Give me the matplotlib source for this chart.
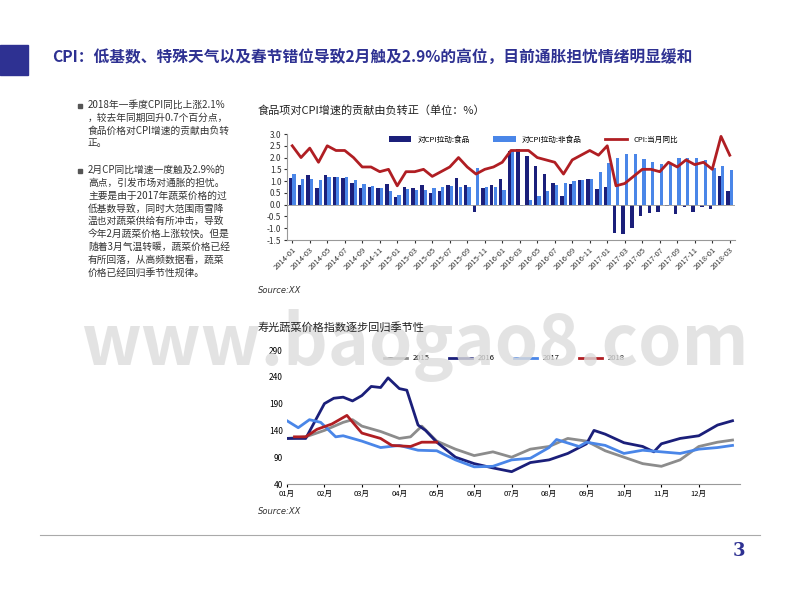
import matplotlib
matplotlib.use("Agg")
import matplotlib.pyplot as plt
import numpy as np

plt.rcParams["font.family"] = ["Noto Sans CJK SC", "DejaVu Sans"]

# ---- top chart data (2014-01 .. 2018-03) ----
months = [f"{y}-{m:02d}" for y in range(2014, 2019) for m in range(1, 13)][:51]
food = [1.14,0.83,1.27,0.70,1.27,1.16,1.13,0.93,0.70,0.77,0.70,0.89,
        0.33,0.74,0.70,0.83,0.49,0.57,0.83,1.14,0.83,-0.31,0.70,0.83,
        1.11,2.29,2.36,2.07,1.64,1.29,0.93,0.36,0.89,1.03,1.11,0.66,
        0.74,-1.21,-1.24,-1.00,-0.46,-0.36,-0.31,-0.07,-0.40,-0.11,-0.31,-0.11,
        -0.17,1.21,0.57]
nonfood = [1.31,1.07,1.07,1.06,1.17,1.16,1.16,1.03,0.89,0.80,0.70,0.56,
           0.40,0.67,0.64,0.64,0.71,0.77,0.80,0.77,0.73,1.57,0.74,0.73,
           0.64,2.26,-0.05,0.21,0.36,0.57,0.83,0.94,0.99,1.03,1.11,1.37,
           1.77,2.00,2.13,2.17,1.93,1.81,1.71,1.79,1.97,2.00,2.00,1.89,
           1.57,1.64,1.49]
cpi = [2.5,2.0,2.4,1.8,2.5,2.3,2.3,2.0,1.6,1.6,1.4,1.5,
       0.8,1.4,1.4,1.5,1.2,1.4,1.6,2.0,1.6,1.3,1.5,1.6,
       1.8,2.3,2.3,2.3,2.0,1.9,1.8,1.3,1.9,2.1,2.3,2.1,
       2.5,0.8,0.9,1.2,1.5,1.5,1.4,1.8,1.6,1.9,1.7,1.8,
       1.5,2.9,2.1]
top_yticks = [-1.5,-1.0,-0.5,0.0,0.5,1.0,1.5,2.0,2.5,3.0]

# ---- bottom chart data ----
month_labels = ["01月","02月","03月","04月","05月","06月","07月","08月","09月","10月","11月","12月"]
x2015 = [1,1.5,2,2.5,2.75,3,3.5,4,4.3,4.6,5,5.5,6,6.5,7,7.5,8,8.5,9,9.5,10,10.5,11,11.5,12,12.5,12.9]
y2015 = [125,128,140,155,160,148,138,125,128,148,120,105,93,100,90,105,110,125,120,102,90,78,73,85,110,118,122]
x2016 = [1,1.5,2,2.25,2.5,2.75,3,3.25,3.5,3.7,4,4.2,4.5,4.7,5,5.5,6,6.5,7,7.5,8,8.5,9,9.2,9.5,10,10.5,10.8,11,11.5,12,12.5,12.9]
y2016 = [125,125,190,200,202,195,205,222,220,238,218,215,150,140,118,90,78,70,63,80,85,97,115,140,133,117,110,100,115,125,130,150,158]
x2017 = [1,1.3,1.6,1.9,2.3,2.5,3,3.5,4,4.5,5,5.5,6,6.5,7,7.5,8,8.2,8.8,9,9.5,10,10.5,11,11.5,12,12.5,12.9]
y2017 = [158,145,160,155,128,130,120,108,112,103,102,85,72,73,85,88,108,123,110,118,112,97,103,100,97,105,108,112]
x2018 = [1.2,1.5,1.8,2.2,2.6,3,3.5,3.8,4.3,4.6,5]
y2018 = [128,128,142,152,168,135,125,112,110,118,118]

fig = plt.figure(figsize=(8, 6), dpi=100)
W, H = 800, 600
def ax_rect(x0, y0, x1, y1):
    return [x0/W, 1-y1/H, (x1-x0)/W, (y1-y0)/H]

navy = "#2E3192"
# header
fig.patches.append(plt.Rectangle((0, 1-75/H), 28/W, 30/H, transform=fig.transFigure, color=navy))
fig.text(52/W, 1-58/H, "CPI：低基数、特殊天气以及春节错位导致2月触及2.9%的高位，目前通胀担忧情绪明显缓和",
         color=navy, fontsize=11.3, fontweight="bold", va="center")
# watermark
fig.text(415/W, 1-345/H, "www.baogao8.com", color="#dddddd", fontsize=50, ha="center", va="center",
         fontweight="bold", alpha=0.8, zorder=0)
# footer
fig.add_artist(plt.Line2D([40/W, 760/W], [1-535/H, 1-535/H], color="#aaaaaa", lw=0.8, transform=fig.transFigure))
fig.text(745/W, 1-551/H, "3", color=navy, fontsize=13, fontweight="bold", ha="right", va="center", family="DejaVu Serif")

# left text
p1 = "2018年一季度CPI同比上涨2.1%\n，较去年同期回升0.7个百分点，\n食品价格对CPI增速的贡献由负转\n正。"
p2 = ("2月CP同比增速一度触及2.9%的\n高点，引发市场对通胀的担忧。\n主要是由于2017年蔬菜价格的过\n低基数导致，同时大范围雨雪降\n"
      "温也对蔬菜供给有所冲击，导致\n今年2月蔬菜价格上涨较快。但是\n随着3月气温转暖，蔬菜价格已经\n有所回落，从高频数据看，蔬菜\n价格已经回归季节性规律。")
for yy, txt in [(100, p1), (165, p2)]:
    fig.patches.append(plt.Rectangle((78/W, 1-(yy+8)/H), 4/W, 4/H, transform=fig.transFigure, color="#555555"))
    fig.text(88/W, 1-yy/H, txt, fontsize=7, va="top", color="#333333", linespacing=1.35)

# top chart
fig.text(258/W, 1-110/H, "食品项对CPI增速的贡献由负转正（单位：%）", fontsize=8, va="center", color="#222222")
ax = fig.add_axes(ax_rect(287, 134, 735, 240))
x = np.arange(len(months))
w = 0.38
b1 = ax.bar(x - w/2, food, w, color="#1B1F7A", label="对CPI拉动:食品")
b2 = ax.bar(x + w/2, nonfood, w, color="#4A86E8", label="对CPI拉动:非食品")
l1, = ax.plot(x, cpi, color="#B01E23", lw=2, label="CPI:当月同比")
ax.set_ylim(-1.5, 3.0)
ax.set_yticks(top_yticks)
ax.set_yticklabels([f"{v:.1f}" for v in top_yticks], fontsize=6)
ax.set_xlim(-0.6, len(months) - 0.4)
ax.set_xticks(x[::2])
ax.set_xticklabels(months[::2], rotation=45, ha="right", fontsize=5.5, rotation_mode="anchor")
ax.axhline(0, color="#999999", lw=0.6)
for s in ["top", "right"]:
    ax.spines[s].set_visible(False)
ax.spines["left"].set_color("#999999"); ax.spines["bottom"].set_color("#999999")
ax.tick_params(length=2, pad=2, colors="#333333")
ax.legend([b1, b2, l1], ["对CPI拉动:食品", "对CPI拉动:非食品", "CPI:当月同比"], loc="upper center", ncol=3,
          fontsize=5.5, frameon=False, bbox_to_anchor=(0.55, 1.05), handlelength=3, columnspacing=3)
fig.text(258/W, 1-290/H, "Source:XX", fontsize=6, style="italic", color="#333333", va="center", family="DejaVu Sans")

# bottom chart
fig.text(258/W, 1-327/H, "寿光蔬菜价格指数逐步回归季节性", fontsize=8, va="center", color="#222222")
ax2 = fig.add_axes(ax_rect(287, 350, 740, 484))
ax2.plot(x2015, y2015, color="#8C8C8C", lw=2, label="2015")
ax2.plot(x2016, y2016, color="#1B1F7A", lw=2, label="2016")
ax2.plot(x2017, y2017, color="#4A86E8", lw=2, label="2017")
ax2.plot(x2018, y2018, color="#B01E23", lw=2, label="2018")
ax2.set_ylim(40, 290)
ax2.set_yticks([40, 90, 140, 190, 240, 290])
ax2.set_xlim(1, 13.1)
ax2.set_xticks(range(1, 13))
ax2.set_xticklabels(month_labels, fontsize=5.5)
ax2.tick_params(axis="y", labelsize=6, length=0, pad=3)
ax2.tick_params(axis="x", length=2, pad=2)
for s in ["top", "right"]:
    ax2.spines[s].set_visible(False)
ax2.spines["left"].set_visible(False)
ax2.spines["bottom"].set_color("#999999")
ax2.legend(loc="upper center", ncol=4, fontsize=5.5, frameon=False, bbox_to_anchor=(0.48, 1.02),
           handlelength=3, columnspacing=2.5)
fig.text(258/W, 1-512/H, "Source:XX", fontsize=6, style="italic", color="#333333", va="center", family="DejaVu Sans")

fig.savefig("out.png", dpi=100)
